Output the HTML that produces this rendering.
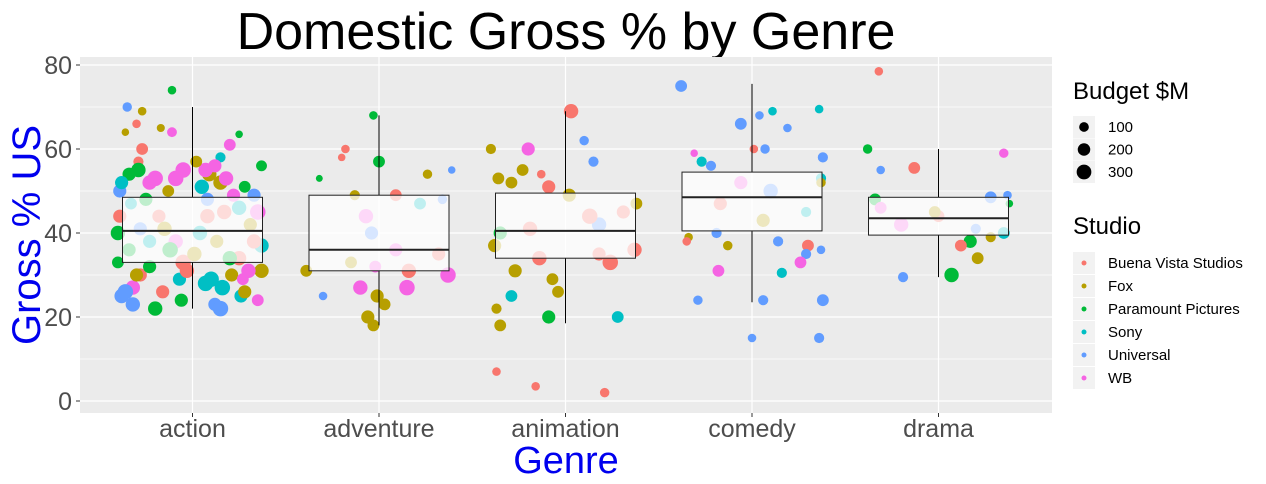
<!DOCTYPE html>
<html><head><meta charset="utf-8"><style>
html,body{margin:0;padding:0;background:#fff;}
svg{display:block;font-family:"Liberation Sans",Arial,sans-serif;}
</style></head><body>
<svg id="chart" width="1266" height="484">
<rect x="0" y="0" width="1266" height="484" fill="#fff"/>
<text x="566" y="49" text-anchor="middle" font-size="52" fill="#000">Domestic Gross % by Genre</text>
<rect x="80" y="57" width="972" height="356" fill="#EBEBEB"/>
<g id="grid"></g>
<g id="points"></g>
<g id="boxes"></g>
<g id="axes"></g>
<text x="566" y="473" text-anchor="middle" font-size="38" fill="#0000EE">Genre</text>
<text transform="translate(40,235) rotate(-90)" text-anchor="middle" font-size="40" fill="#0000EE">Gross % US</text>
<g id="legend">
<text x="1073" y="99" font-size="24" fill="#000">Budget $M</text>
<text x="1073" y="234" font-size="24" fill="#000">Studio</text>
</g>
</svg>
<script>
const genres = ["action","adventure","animation","comedy","drama"];
const studios = ["Buena Vista Studios","Fox","Paramount Pictures","Sony","Universal","WB"];
const studioColors = ["#F8766D","#B79F00","#00BA38","#00BFC4","#619CFF","#F564E3"];
const yTicks = [0,20,40,60,80];
const budgetLegend = [100,200,300];
const boxQ1 = [33,31,34,40.5,39.5];
const boxMedian = [40.5,36,40.5,48.5,43.5];
const boxQ3 = [48.5,49,49.5,54.5,48.5];
const whiskerLow = [22,18,18.5,23.5,29.5];
const whiskerHigh = [70,68,69,75.5,60];
// [genre index, jitter (category units), gross %, budget $M, studio index]
const pointsAction = [[0,-0.11,74,60,2],[0,-0.17,65,50,1],[0,-0.35,70,80,4],[0,-0.27,69,60,1],[0,-0.30,66,60,0],[0,-0.36,64,40,1],[0,-0.11,64,90,5],[0,0.25,63.5,40,2],[0,0.20,61,150,5],[0,0.37,56,120,2],[0,-0.29,57,100,0],[0,-0.34,54,200,2],[0,-0.39,50,200,4],[0,-0.39,44,200,0],[0,-0.40,40,250,2],[0,-0.40,33,150,2],[0,-0.38,25,250,4],[0,-0.20,22,250,2],[0,0.12,23,200,4],[0,0.15,22,300,4],[0,0.37,31,250,1],[0,0.35,24,150,5],[0,0.35,45,300,5],[0,0.37,37,250,3],[0,0.09,54,250,1],[0,-0.09,53,300,5],[0,0.07,55,250,5],[0,0.15,58,100,3],[0,-0.28,30,200,0],[0,0.07,28,300,3],[0,-0.05,33,300,0],[0,-0.32,27,250,5],[0,-0.23,32,200,2],[0,0.15,52,250,1],[0,0.08,48,200,4],[0,-0.13,50,150,1],[0,-0.18,44,200,0],[0,-0.09,38,250,5],[0,0.01,35,250,1],[0,0.21,30,200,1],[0,-0.28,41,200,4],[0,0.25,46,250,3],[0,0.31,42,200,1],[0,-0.34,36,200,2],[0,-0.16,26,200,0],[0,-0.27,60,150,0],[0,-0.25,48,200,2],[0,0.02,57,150,1],[0,0.22,49,200,5],[0,0.27,29,150,5],[0,0.04,40,250,3],[0,0.17,45,250,0],[0,-0.23,38,200,3],[0,0.25,34,250,0],[0,-0.33,47,150,3],[0,-0.23,52,250,5],[0,-0.07,29,200,3],
[0,0.10,29,300,3],[0,0.16,27,300,3],[0,-0.36,26,300,4],[0,-0.06,24,200,2],[0,0.30,31,250,5],[0,-0.12,36,300,2],[0,0.05,51,250,3],[0,-0.05,55,300,5],[0,0.18,53,250,5],[0,0.12,56,200,5],[0,-0.20,53,300,5],[0,-0.29,55,250,2],[0,0.28,51,150,2],[0,0.33,49,200,4],[0,-0.38,52,200,3],[0,0.26,25,200,3],[0,-0.30,30,200,1],[0,0.33,38,250,0],[0,-0.03,31,250,0],[0,0.20,34,250,2],[0,0.13,38,200,1],[0,-0.15,41,250,1],[0,0.08,44,250,0],[0,-0.32,23,250,4],[0,0.28,26,200,1]];
const pointsAdventure = [[1,-0.03,68,60,2],[1,-0.18,60,60,0],[1,-0.2,58,40,0],[1,0,57,150,2],[1,0.26,54,80,1],[1,0.39,55,40,4],[1,-0.32,53,30,2],[1,-0.13,49,100,1],[1,0.09,49,150,0],[1,0.34,48,80,4],[1,0.22,47,150,3],[1,-0.07,44,250,5],[1,-0.04,40,200,4],[1,0.32,35,200,0],[1,-0.15,33,150,1],[1,-0.02,32,150,5],[1,-0.39,31,150,1],[1,0.16,31,250,0],[1,0.37,30,300,5],[1,-0.1,27,250,5],[1,0.15,27,300,5],[1,-0.01,25,200,1],[1,-0.3,25,60,4],[1,0.03,23,150,1],[1,-0.06,20,200,1],[1,-0.03,18,150,1],[1,0.09,36,200,5]];
const pointsAnimation = [[2,0.03,69,250,0],[2,0.1,62,80,4],[2,-0.4,60,100,1],[2,-0.2,60,200,5],[2,0.15,57,100,4],[2,-0.23,55,150,1],[2,-0.13,54,60,0],[2,-0.36,53,150,1],[2,-0.29,52,150,1],[2,-0.09,51,200,0],[2,0.02,49,200,1],[2,0.38,47,150,1],[2,0.31,45,200,0],[2,0.18,42,250,4],[2,-0.35,40,200,2],[2,-0.38,37,200,1],[2,0.37,36,250,0],[2,0.24,33,300,0],[2,-0.27,31,200,1],[2,-0.07,29,150,1],[2,-0.04,26,150,1],[2,-0.29,25,150,3],[2,-0.37,22,100,1],[2,0.28,20,150,3],[2,-0.09,20,200,2],[2,-0.35,18,150,1],[2,-0.37,7,60,0],[2,-0.16,3.5,60,0],[2,0.21,2,80,0],[2,-0.14,34,250,0],[2,0.18,35,200,0],[2,0.13,44,300,0],[2,-0.19,41,250,0]];
const pointsComedy = [[3,-0.38,75,150,4],[3,0.11,69,60,3],[3,0.04,68,60,4],[3,-0.06,66,150,4],[3,0.19,65,60,4],[3,0.36,69.5,60,3],[3,0.01,60,60,0],[3,0.07,60,80,4],[3,0.38,58,100,4],[3,-0.31,59,40,5],[3,-0.27,57,100,3],[3,-0.22,56,100,4],[3,0.37,53,100,3],[3,0.37,52,80,1],[3,0.29,45,100,3],[3,0.06,43,200,1],[3,-0.19,40,100,4],[3,-0.34,39,60,1],[3,-0.35,38,60,0],[3,0.14,38,100,4],[3,-0.13,37,80,1],[3,0.3,37,150,0],[3,0.37,36,60,4],[3,0.29,35,100,4],[3,0.26,33,150,5],[3,-0.18,31,150,5],[3,0.16,30.5,100,3],[3,0.06,24,100,4],[3,-0.29,24,80,4],[3,0.38,24,150,4],[3,0,15,60,4],[3,0.36,15,100,4],[3,0.1,50,250,4],[3,-0.17,47,200,0],[3,-0.06,52,200,5]];
const pointsDrama = [[4,-0.32,78.5,60,0],[4,-0.38,60,80,2],[4,0.35,59,80,5],[4,-0.13,55.5,150,0],[4,-0.31,55,60,4],[4,-0.34,48,150,2],[4,0.28,48.5,150,4],[4,0.37,49,60,4],[4,0.38,47,40,2],[4,0,44,150,0],[4,0.2,41,100,4],[4,0.35,40,150,3],[4,0.28,39,100,1],[4,0.17,38,200,2],[4,0.12,37,150,0],[4,0.21,34,150,1],[4,0.07,30,250,2],[4,-0.19,29.5,100,4],[4,-0.02,45,150,1],[4,-0.31,46,150,5],[4,-0.2,42,250,5]];

const NS="http://www.w3.org/2000/svg";
const P={x0:80,x1:1052,y0:57,y1:413};
const xScale = i => 192.5 + i*186.5;
const yScale = v => 401 - v*4.2;
const rScale = b => 1.5 + 0.36*Math.sqrt(b);
function mk(tag, attrs, parent){const e=document.createElementNS(NS,tag);for(const k in attrs)e.setAttribute(k,attrs[k]);parent.appendChild(e);return e;}
const grid=document.getElementById('grid');
for(let v=10; v<=70; v+=20){
  const l=mk('line',{x1:P.x0,x2:P.x1,y1:yScale(v),y2:yScale(v),stroke:'#fff','stroke-width':0.7},grid);
  
  
}
yTicks.forEach(v=>{
  const l=mk('line',{x1:P.x0,x2:P.x1,y1:yScale(v),y2:yScale(v),stroke:'#fff','stroke-width':1.2},grid);
  
  
});
genres.forEach((g,i)=>{
  const l=mk('line',{x1:xScale(i),x2:xScale(i),y1:P.y0,y2:P.y1,stroke:'#fff','stroke-width':1.2},grid);
  
  
});
const pts=document.getElementById('points');
[pointsAction,pointsAdventure,pointsAnimation,pointsComedy,pointsDrama].forEach(arr=>arr.forEach(p=>{
  const c=mk('circle',{cx:xScale(p[0]+p[1]),cy:yScale(p[2]),r:rScale(p[3]),fill:studioColors[p[4]]},pts);
  
  
}));
const boxes=document.getElementById('boxes');
genres.forEach((g,i)=>{
  const cx=xScale(i), hw=70;
  const w1=mk('line',{x1:cx,x2:cx,y1:yScale(boxQ3[i]),y2:yScale(whiskerHigh[i]),stroke:'#000','stroke-width':1},boxes);
  
  
  const w2=mk('line',{x1:cx,x2:cx,y1:yScale(boxQ1[i]),y2:yScale(whiskerLow[i]),stroke:'#000','stroke-width':1},boxes);
  
  
  const r=mk('rect',{x:cx-hw,y:yScale(boxQ3[i]),width:2*hw,height:yScale(boxQ1[i])-yScale(boxQ3[i]),fill:'rgba(255,255,255,0.75)',stroke:'#222','stroke-width':1},boxes);
  
  
  const m=mk('line',{x1:cx-hw,x2:cx+hw,y1:yScale(boxMedian[i]),y2:yScale(boxMedian[i]),stroke:'#222','stroke-width':2},boxes);
  
  
});
const axes=document.getElementById('axes');
yTicks.forEach(v=>{
  const t=mk('line',{x1:P.x0-4,x2:P.x0,y1:yScale(v),y2:yScale(v),stroke:'#333','stroke-width':1},axes);
  
  
  const tx=mk('text',{x:P.x0-8,y:yScale(v)+9,'text-anchor':'end','font-size':25,fill:'#4D4D4D'},axes);
  tx.textContent=v;
  
  
});
genres.forEach((g,i)=>{
  const t=mk('line',{x1:xScale(i),x2:xScale(i),y1:P.y1,y2:P.y1+4,stroke:'#333','stroke-width':1},axes);
  
  
  const tx=mk('text',{x:xScale(i),y:437,'text-anchor':'middle','font-size':25,fill:'#4D4D4D'},axes);
  tx.textContent=g;
  
  
});
const leg=document.getElementById('legend');
budgetLegend.forEach((b,i)=>{
  const y=127+i*22.5;
  const bg=mk('rect',{x:1073,y:y-11,width:22,height:22,fill:'#F2F2F2'},leg);
  
  
  const c=mk('circle',{cx:1084,cy:y,r:rScale(b)*0.95,fill:'#000'},leg);
  
  
  const t=mk('text',{x:1108,y:y+5,'font-size':15,fill:'#000'},leg);
  t.textContent=b;
  
  
});
studios.forEach((s,i)=>{
  const y=263+i*23;
  const bg=mk('rect',{x:1073,y:y-11,width:22,height:22,fill:'#F2F2F2'},leg);
  
  
  const c=mk('circle',{cx:1084,cy:y,r:2.5,fill:studioColors[i]},leg);
  
  
  const t=mk('text',{x:1108,y:y+5,'font-size':15,fill:'#000'},leg);
  t.textContent=s;
  
  
});
</script>
</body></html>
